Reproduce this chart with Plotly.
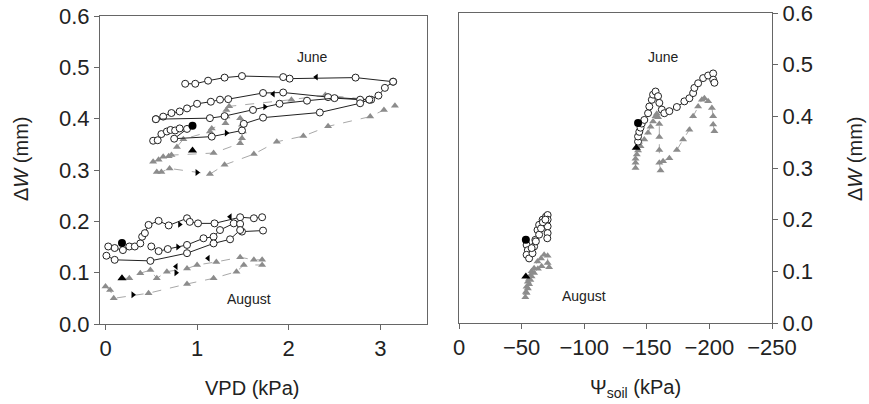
import plotly.graph_objects as go

# ---------------- Left panel: stem shrinkage vs VPD ----------------
# June, open circles (VPD kPa, ΔW mm)
jun_c1_vpd = [3.14, 2.73, 2.01, 1.94, 1.49, 1.30, 1.12, 0.98, 0.87]
jun_c1_dw = [0.472, 0.480, 0.478, 0.481, 0.483, 0.480, 0.474, 0.468, 0.468]
jun_c2_vpd = [0.55, 0.63, 0.72, 0.81, 0.89, 1.00, 1.15, 1.25, 1.34, 1.72, 1.94, 2.43, 2.88, 2.98, 3.05, 3.14]
jun_c2_dw = [0.399, 0.404, 0.411, 0.414, 0.420, 0.429, 0.433, 0.437, 0.438, 0.450, 0.451, 0.442, 0.437, 0.445, 0.460, 0.472]
jun_c3_vpd = [0.55, 1.14, 1.30, 1.61, 1.90, 2.20, 2.50, 2.78, 2.90]
jun_c3_dw = [0.399, 0.401, 0.405, 0.417, 0.429, 0.435, 0.440, 0.437, 0.437]
jun_c4_vpd = [0.52, 0.57, 0.61, 0.67, 0.71, 0.76, 0.81, 0.89, 0.75, 1.16, 1.49, 1.51, 1.72, 2.34, 2.78, 2.88]
jun_c4_dw = [0.357, 0.358, 0.370, 0.375, 0.378, 0.377, 0.381, 0.380, 0.361, 0.365, 0.377, 0.390, 0.402, 0.412, 0.430, 0.437]

# June, grey triangles
jun_t1_vpd = [0.56, 0.61, 0.70, 1.14, 1.30, 1.62, 1.87, 2.16, 2.43, 2.89, 3.04, 3.16]
jun_t1_dw = [0.296, 0.296, 0.303, 0.292, 0.310, 0.331, 0.355, 0.366, 0.385, 0.404, 0.417, 0.425]
jun_t2_vpd = [0.52, 0.58, 0.63, 0.69, 0.72, 1.18, 1.47, 1.49, 1.50, 1.49, 1.47]
jun_t2_dw = [0.316, 0.320, 0.326, 0.327, 0.329, 0.333, 0.352, 0.362, 0.375, 0.388, 0.401]
jun_t3_vpd = [0.78, 0.85, 1.14, 1.16, 1.31, 1.32, 1.32, 1.35, 2.03, 2.40, 2.89]
jun_t3_dw = [0.345, 0.360, 0.375, 0.381, 0.391, 0.404, 0.417, 0.424, 0.437, 0.446, 0.437]

# August, open circles
aug_c1_vpd = [0.03, 0.10, 0.19, 0.26, 0.32, 0.38, 0.40, 0.43, 0.47, 0.58, 0.69, 0.89, 0.92, 1.01, 1.19, 1.47, 1.62, 1.71]
aug_c1_dw = [0.151, 0.148, 0.144, 0.151, 0.151, 0.157, 0.170, 0.177, 0.193, 0.201, 0.192, 0.206, 0.199, 0.196, 0.196, 0.208, 0.206, 0.208]
aug_c2_vpd = [0.50, 0.58, 0.68, 0.89, 1.07, 1.18, 1.25, 1.40, 1.47, 1.49, 1.72]
aug_c2_dw = [0.151, 0.142, 0.146, 0.154, 0.167, 0.170, 0.183, 0.196, 0.195, 0.180, 0.182]
aug_c3_vpd = [0.01, 0.10, 0.49, 0.89, 1.18, 1.36, 1.47]
aug_c3_dw = [0.133, 0.125, 0.123, 0.138, 0.157, 0.165, 0.183]

# August, grey triangles
aug_t1_vpd = [0.00, 0.05, 0.09, 0.47, 0.89, 1.18, 1.43, 1.51, 1.71]
aug_t1_dw = [0.073, 0.066, 0.050, 0.060, 0.078, 0.089, 0.102, 0.115, 0.115]
aug_t2_vpd = [0.18, 0.26, 0.38, 0.49, 0.56, 0.67, 0.89, 1.00, 1.21, 1.47, 1.62, 1.71]
aug_t2_dw = [0.089, 0.089, 0.099, 0.105, 0.089, 0.102, 0.108, 0.115, 0.121, 0.130, 0.125, 0.125]

# first observation of each day (filled symbols)
start_circ_vpd = [0.95, 0.18]
start_circ_dw = [0.386, 0.158]
start_tri_vpd = [0.95, 0.18]
start_tri_dw = [0.338, 0.089]

# direction arrowheads along the hysteresis loops
arrow_left_vpd = [2.30, 1.83, 1.36, 1.12, 0.77]
arrow_left_dw = [0.481, 0.448, 0.209, 0.128, 0.112]
arrow_right_vpd = [1.74, 1.32, 1.00, 0.81, 0.79, 0.77, 0.30]
arrow_right_dw = [0.423, 0.372, 0.295, 0.194, 0.150, 0.100, 0.057]

# ---------------- Right panel: stem shrinkage vs soil water potential ----------------
rj_c1_psi = [-143, -143, -144, -145, -146, -148, -151, -152, -154, -155, -157, -159, -160, -162, -164,
             -168, -174, -180, -184, -187, -188, -191, -195, -199, -203, -203, -204]
rj_c1_dw = [0.351, 0.361, 0.370, 0.378, 0.386, 0.393, 0.406, 0.419, 0.432, 0.442, 0.448, 0.439, 0.426, 0.413, 0.406,
            0.410, 0.418, 0.429, 0.435, 0.445, 0.455, 0.464, 0.474, 0.479, 0.483, 0.471, 0.465]
rj_t1_psi = [-141, -141, -141, -142, -143, -145, -148, -151, -153, -155, -157, -158, -159, -160, -160, -160, -160,
             -161, -163, -168, -174, -179, -184, -187, -191, -194, -196, -199, -202, -203, -203, -204]
rj_t1_dw = [0.300, 0.310, 0.318, 0.326, 0.334, 0.342, 0.355, 0.368, 0.380, 0.390, 0.400, 0.405, 0.398, 0.385, 0.360,
            0.335, 0.310, 0.295, 0.313, 0.319, 0.335, 0.355, 0.374, 0.400, 0.419, 0.432, 0.435, 0.429, 0.416, 0.400,
            0.384, 0.371]
ra_c1_psi = [-54, -55, -54, -56, -58.7, -60, -61, -62.7, -64, -66.8, -69.5, -70.8, -70.8, -70.8, -70.8, -70.5]
ra_c1_dw = [0.151, 0.141, 0.132, 0.125, 0.135, 0.148, 0.161, 0.180, 0.190, 0.200, 0.206, 0.209, 0.200, 0.187, 0.174, 0.164]
ra_c2_psi = [-58, -61.4, -64, -65.5, -67, -69]
ra_c2_dw = [0.145, 0.158, 0.171, 0.183, 0.195, 0.200]
ra_t1_psi = [-53, -53.5, -54, -55, -56, -57, -58, -60, -62.7, -65.5, -68, -70.8, -70.8, -72]
ra_t1_dw = [0.050, 0.060, 0.070, 0.080, 0.085, 0.092, 0.100, 0.106, 0.119, 0.125, 0.132, 0.130, 0.116, 0.108]
ra_t2_psi = [-54, -55, -56, -57, -58, -60, -63, -66]
ra_t2_dw = [0.058, 0.067, 0.075, 0.083, 0.090, 0.097, 0.105, 0.110]
r_start_circ_psi = [-143, -53.4]
r_start_circ_dw = [0.387, 0.161]
r_start_tri_psi = [-141.6, -53.4]
r_start_tri_dw = [0.339, 0.090]

W, H = 869, 404
FONT = "Arial, Liberation Sans, sans-serif"
TRI_GREY = "#8c8c8c"
LINE_GREY = "#a8a8a8"


def px(x):
    return x / W


def py(y):
    return 1 - y / H


fig = go.Figure()


def circles(x, y, xa, ya):
    fig.add_trace(go.Scatter(
        x=x, y=y, mode="lines+markers", xaxis=xa, yaxis=ya, showlegend=False,
        line=dict(color="#222222", width=1),
        marker=dict(symbol="circle", size=7, color="white", line=dict(color="#222222", width=1))))


def triangles(x, y, xa, ya):
    fig.add_trace(go.Scatter(
        x=x, y=y, mode="lines+markers", xaxis=xa, yaxis=ya, showlegend=False,
        line=dict(color=LINE_GREY, width=1, dash="dash"),
        marker=dict(symbol="triangle-up", size=7, color=TRI_GREY, line=dict(width=0))))


def solid(x, y, xa, ya, symbol, size=7):
    fig.add_trace(go.Scatter(
        x=x, y=y, mode="markers", xaxis=xa, yaxis=ya, showlegend=False,
        marker=dict(symbol=symbol, size=size, color="black", line=dict(width=0))))


# left panel
for x, y in [(jun_t1_vpd, jun_t1_dw), (jun_t2_vpd, jun_t2_dw), (jun_t3_vpd, jun_t3_dw),
             (aug_t1_vpd, aug_t1_dw), (aug_t2_vpd, aug_t2_dw)]:
    triangles(x, y, "x", "y")
for x, y in [(jun_c1_vpd, jun_c1_dw), (jun_c2_vpd, jun_c2_dw), (jun_c3_vpd, jun_c3_dw), (jun_c4_vpd, jun_c4_dw),
             (aug_c1_vpd, aug_c1_dw), (aug_c2_vpd, aug_c2_dw), (aug_c3_vpd, aug_c3_dw)]:
    circles(x, y, "x", "y")
solid(start_circ_vpd, start_circ_dw, "x", "y", "circle", 8)
solid(start_tri_vpd, start_tri_dw, "x", "y", "triangle-up", 8)
solid(arrow_left_vpd, arrow_left_dw, "x", "y", "triangle-left", 6)
solid(arrow_right_vpd, arrow_right_dw, "x", "y", "triangle-right", 6)

# right panel
for x, y in [(rj_t1_psi, rj_t1_dw), (ra_t1_psi, ra_t1_dw), (ra_t2_psi, ra_t2_dw)]:
    triangles(x, y, "x2", "y2")
for x, y in [(rj_c1_psi, rj_c1_dw), (ra_c1_psi, ra_c1_dw), (ra_c2_psi, ra_c2_dw)]:
    circles(x, y, "x2", "y2")
solid(r_start_circ_psi, r_start_circ_dw, "x2", "y2", "circle", 8)
solid(r_start_tri_psi, r_start_tri_dw, "x2", "y2", "triangle-up", 8)

axis_common = dict(showline=True, linecolor="#666666", linewidth=1, mirror=True, ticks="outside",
                   ticklen=5, tickcolor="#666666", showgrid=False, zeroline=False, automargin=False,
                   tickfont=dict(family=FONT, size=22, color="#222222"))

fig.update_layout(
    width=W, height=H, margin=dict(l=0, r=0, t=0, b=0, autoexpand=False),
    paper_bgcolor="white", plot_bgcolor="white",
    xaxis=dict(domain=[px(100), px(427)], range=[-0.06, 3.51], tickvals=[0, 1, 2, 3], anchor="y", **axis_common),
    yaxis=dict(domain=[py(324), py(16)], range=[0, 0.6], tickvals=[0, 0.1, 0.2, 0.3, 0.4, 0.5, 0.6],
               tickformat=".1f", anchor="x", **axis_common),
    xaxis2=dict(domain=[px(459), px(772)], range=[0, -250], tickvals=[0, -50, -100, -150, -200, -250],
                anchor="y2", **axis_common),
    yaxis2=dict(domain=[py(323), py(13)], range=[0, 0.6], tickvals=[0, 0.1, 0.2, 0.3, 0.4, 0.5, 0.6],
                tickformat=".1f", side="right", anchor="x2", **axis_common),
)

title_font = dict(family=FONT, size=20, color="#222222")
label_font = dict(family=FONT, size=14, color="#222222")
notes = [
    dict(x=px(21), y=py(159), text="Δ<i>W</i> (mm)", textangle=-90, font=title_font),
    dict(x=px(855), y=py(159), text="Δ<i>W</i> (mm)", textangle=-90, font=title_font),
    dict(x=px(252), y=py(388), text="VPD (kPa)", font=title_font),
    dict(x=px(635), y=py(388), text="Ψ<sub>soil</sub> (kPa)", font=title_font),
    dict(x=px(312), y=py(57), text="June", font=label_font),
    dict(x=px(249), y=py(299), text="August", font=label_font),
    dict(x=px(663), y=py(57), text="June", font=label_font),
    dict(x=px(584), y=py(296), text="August", font=label_font),
]
for n in notes:
    fig.add_annotation(xref="paper", yref="paper", showarrow=False, xanchor="center", yanchor="middle", **n)

fig.write_html("out.html")
